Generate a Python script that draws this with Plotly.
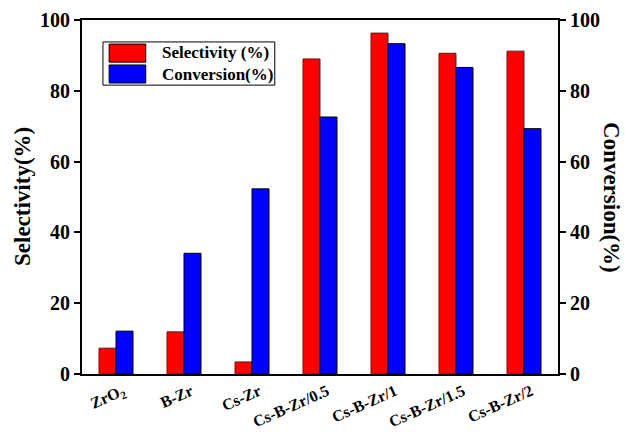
import plotly.graph_objects as go

categories = ["ZrO<sub>2</sub>", "B-Zr", "Cs-Zr", "Cs-B-Zr/0.5", "Cs-B-Zr/1", "Cs-B-Zr/1.5", "Cs-B-Zr/2"]
selectivity = [7.3, 11.9, 3.4, 89.0, 96.3, 90.6, 91.2]
conversion = [12.1, 34.1, 52.3, 72.6, 93.3, 86.6, 69.3]
yticks = [0, 20, 40, 60, 80, 100]

FONT = "Liberation Serif"
xlabels = ["<b>%s</b>" % c for c in categories]
ylabels = ["<b>%d</b>" % v for v in yticks]

fig = go.Figure()
fig.add_trace(go.Bar(x=categories, y=selectivity, name="Selectivity (%)",
                     marker=dict(color="#ff0000", line=dict(color="#5a1a1a", width=1)),
                     offsetgroup="1", yaxis="y"))
fig.add_trace(go.Bar(x=categories, y=conversion, name="Conversion(%)",
                     marker=dict(color="#0000ff", line=dict(color="#000000", width=1)),
                     offsetgroup="2", yaxis="y2"))

tickfont_y = dict(family=FONT, size=20, color="black")
fig.update_layout(
    width=627, height=432,
    margin=dict(l=82, r=69, t=20, b=58, autoexpand=False),
    paper_bgcolor="white", plot_bgcolor="white",
    barmode="group", bargap=0.5, bargroupgap=0,
    showlegend=False,
    font=dict(family=FONT, color="black"),
    xaxis=dict(showline=True, linecolor="black", linewidth=2, mirror=True,
               ticks="", tickangle=-24, automargin=False, ticklabelshift=7,
               tickmode="array", tickvals=categories, ticktext=xlabels,
               tickfont=dict(family=FONT, size=16, color="black"),
               showgrid=False),
    yaxis=dict(range=[0, 100], tickvals=yticks, ticktext=ylabels, showline=True,
               linecolor="black", linewidth=2, automargin=False,
               ticks="outside", ticklen=6, tickwidth=2, tickcolor="black",
               tickfont=tickfont_y,
               showgrid=False, zeroline=False),
    yaxis2=dict(range=[0, 100], tickvals=yticks, ticktext=ylabels, overlaying="y", side="right",
                showline=True, linecolor="black", linewidth=2, automargin=False,
                ticks="outside", ticklen=6, tickwidth=2, tickcolor="black",
                tickfont=tickfont_y,
                showgrid=False, zeroline=False),
)

# axis titles
fig.add_annotation(text="<b>Selectivity(%)</b>", xref="paper", yref="paper", x=(22 - 82) / 476, y=0.5,
                   xanchor="center", yanchor="middle", textangle=-90, showarrow=False,
                   font=dict(family=FONT, size=23, color="black"))
fig.add_annotation(text="<b>Conversion(%)</b>", xref="paper", yref="paper", x=(612 - 82) / 476, y=0.5,
                   xanchor="center", yanchor="middle", textangle=90, showarrow=False,
                   font=dict(family=FONT, size=23, color="black"))

# custom legend
fig.add_shape(type="rect", xref="paper", yref="paper", x0=0.044, x1=0.405, y0=0.816, y1=0.938,
              line=dict(color="black", width=1), fillcolor="white")
fig.add_shape(type="rect", xref="paper", yref="paper", x0=0.057, x1=0.134, y0=0.881, y1=0.932,
              line=dict(color="black", width=1), fillcolor="#ff0000")
fig.add_shape(type="rect", xref="paper", yref="paper", x0=0.057, x1=0.134, y0=0.822, y1=0.873,
              line=dict(color="black", width=1), fillcolor="#0000ff")
fig.add_annotation(text="<b>Selectivity (%)</b>", xref="paper", yref="paper", x=0.164, y=0.907,
                   xanchor="left", yanchor="middle", showarrow=False,
                   font=dict(family=FONT, size=17, color="black"))
fig.add_annotation(text="<b>Conversion(%)</b>", xref="paper", yref="paper", x=0.164, y=0.847,
                   xanchor="left", yanchor="middle", showarrow=False,
                   font=dict(family=FONT, size=17, color="black"))

fig.write_html("out.html", config={"displayModeBar": False},
               post_script="document.body.style.margin='0';document.body.style.overflow='hidden';")
